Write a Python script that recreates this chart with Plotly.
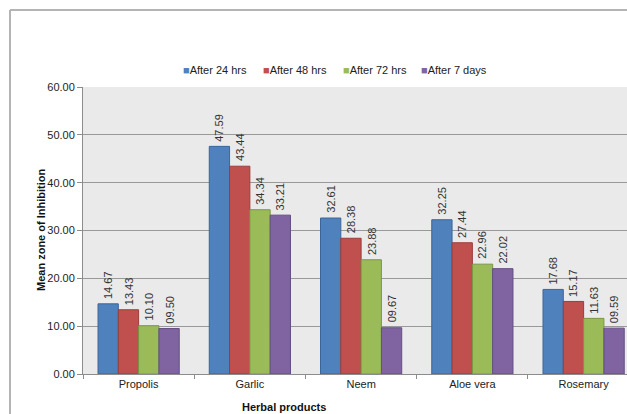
import plotly.graph_objects as go

categories = ["Propolis", "Garlic", "Neem", "Aloe vera", "Rosemary"]
series_names = ["After 24 hrs", "After 48 hrs", "After 72 hrs", "After 7 days"]
after_24 = [14.67, 47.59, 32.61, 32.25, 17.68]
after_48 = [13.43, 43.44, 28.38, 27.44, 15.17]
after_72 = [10.10, 34.34, 23.88, 22.96, 11.63]
after_7d = [9.50, 33.21, 9.67, 22.02, 9.59]
series_values = [after_24, after_48, after_72, after_7d]
y_ticks = [0, 10, 20, 30, 40, 50, 60]

fill_colors = ["#4F81BD", "#C0504D", "#9BBB59", "#8064A2"]
line_colors = ["#3A669A", "#9B3D3A", "#7A9645", "#634D82"]

W, H = 627, 414
ML, MT, MB, MR = 83, 87, 40, 0
PW = W - ML - MR
PH = H - MT - MB
FONT = "Liberation Sans, Arial, sans-serif"
X_RANGE = [-0.5, 4.39]
BARGAP = 0.27

def px_x(p):
    return (p - ML) / PW

def px_y(p):
    return 1 - (p - MT) / PH

fig = go.Figure()
for name, vals, fc, lc in zip(series_names, series_values, fill_colors, line_colors):
    fig.add_trace(go.Bar(
        x=categories, y=vals, name=name,
        marker=dict(color=fc, line=dict(color=lc, width=1)),
        showlegend=False,
    ))

annotations = []
# value labels, positioned through the axes with a per-series group offset
cat_px = PW / (X_RANGE[1] - X_RANGE[0])
bar_px = cat_px * (1 - BARGAP) / len(series_names)
for i, vals in enumerate(series_values):
    shift = (i - (len(series_names) - 1) / 2) * bar_px
    for c, v in zip(categories, vals):
        annotations.append(dict(
            x=c, y=v, xref="x", yref="y", xshift=shift, yshift=3,
            xanchor="center", yanchor="bottom", showarrow=False,
            textangle=-90, text=f"{v:05.2f}",
            font=dict(family=FONT, size=11, color="#333333"),
        ))

# legend built from series names
legend_x = [181, 261, 341, 419]
for name, fc, lx in zip(series_names, fill_colors, legend_x):
    annotations.append(dict(
        xref="paper", yref="paper", x=px_x(lx), y=px_y(70),
        xanchor="left", yanchor="middle", showarrow=False,
        text=f'<span style="color:{fc}">■</span>{name}',
        font=dict(family=FONT, size=11, color="#222222"),
    ))
annotations.append(dict(
    xref="paper", yref="paper", x=px_x(41), y=px_y(230),
    xanchor="center", yanchor="middle", showarrow=False, textangle=-90,
    text="<b>Mean zone of Inhibition</b>",
    font=dict(family=FONT, size=11, color="#111111"),
))
annotations.append(dict(
    xref="paper", yref="paper", x=px_x(284), y=px_y(407),
    xanchor="center", yanchor="middle", showarrow=False,
    text="<b>Herbal products</b>",
    font=dict(family=FONT, size=11, color="#111111"),
))

shapes = [
    dict(type="line", xref="paper", yref="paper",
         x0=px_x(10), x1=px_x(10), y0=px_y(10), y1=px_y(420),
         line=dict(color="#b4b4b4", width=2)),
    dict(type="line", xref="paper", yref="paper",
         x0=px_x(10), x1=px_x(640), y0=px_y(10), y1=px_y(10),
         line=dict(color="#b4b4b4", width=2)),
]

fig.update_layout(
    width=W, height=H,
    margin=dict(l=ML, r=MR, t=MT, b=MB),
    paper_bgcolor="white", plot_bgcolor="#EAEAEA",
    bargap=BARGAP, bargroupgap=0,
    font=dict(family=FONT, size=11, color="#222222"),
    annotations=annotations, shapes=shapes,
    xaxis=dict(
        range=X_RANGE, showgrid=False,
        showline=True, linecolor="#8c8c8c", linewidth=1,
        ticks="outside", tickson="boundaries", ticklen=4, tickcolor="#8c8c8c",
        tickfont=dict(family=FONT, size=11, color="#222222"),
    ),
    yaxis=dict(
        range=[0, 60], tickvals=y_ticks,
        ticktext=[f"{v:.2f}" for v in y_ticks],
        showgrid=True, gridcolor="#999999", gridwidth=1,
        showline=True, linecolor="#8c8c8c", linewidth=1,
        ticks="outside", ticklen=5, tickcolor="#8c8c8c",
        tickfont=dict(family=FONT, size=11, color="#222222"),
        zeroline=False,
    ),
)

fig.write_html("out.html")
